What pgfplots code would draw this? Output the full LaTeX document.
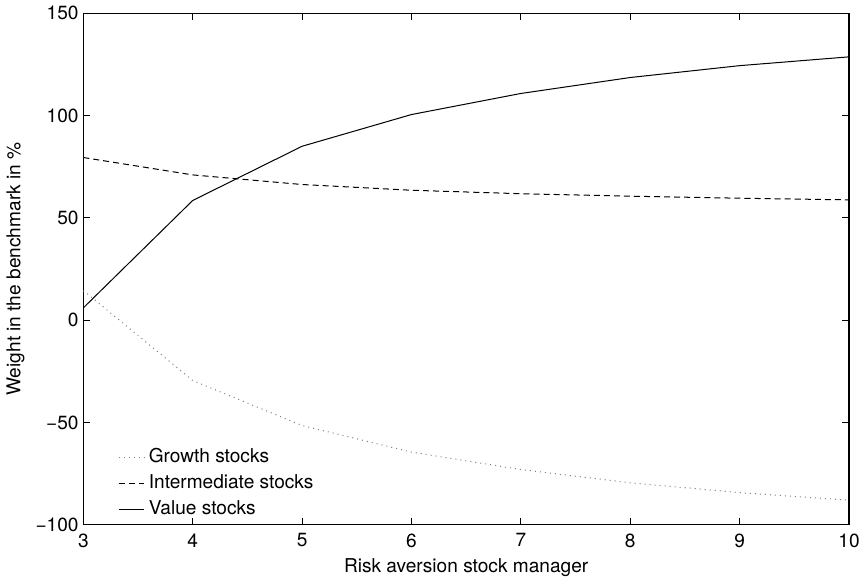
\documentclass[border=0pt]{standalone}
\usepackage{fontspec}
\setmainfont{TeX Gyre Heros}
\usepackage{pgfplots}
\pgfplotsset{compat=1.18}

\begin{document}
\fontsize{9.5}{11.5}\selectfont
\begin{tikzpicture}
\begin{axis}[
    scale only axis,
    width=381pt,
    height=254.5pt,
    xmin=3, xmax=10,
    ymin=-100, ymax=150,
    xtick={3,4,...,10},
    ytick={-100,-50,0,50,100,150},
    yticklabels={−100,−50,0,50,100,150},
    tick align=inside,
    major tick length=3.5pt,
    tick style={black, line width=0.5pt},
    axis line style={line width=0.6pt},
    every tick label/.append style={font=\fontsize{9.5}{11.5}\selectfont},
    /pgf/number format/assume math mode=true,
    xticklabel style={yshift=-1pt},
    yticklabel style={xshift=1pt},
    xlabel={Risk aversion stock manager},
    ylabel={Weight in the benchmark in \%},
    xlabel style={yshift=1pt, font=\fontsize{9.5}{11.5}\selectfont},
    ylabel style={yshift=-1pt, font=\fontsize{9.5}{11.5}\selectfont},
    legend style={draw=none, fill=none, at={(0.037,-0.003)}, anchor=south west,
        font=\fontsize{9.5}{11.5}\selectfont, row sep=0.6pt},
    legend cell align=left,
    legend image post style={xscale=0.75},
]
\addplot[gray, dotted, line width=0.5pt] coordinates {
    (3,14.5) (4,-29.5) (5,-51.5) (6,-64.5) (7,-73) (8,-79.5) (9,-84.3) (10,-88)};
\addplot[black, dash pattern=on 3pt off 2pt, line width=0.5pt] coordinates {
    (3,79.5) (4,71) (5,66.3) (6,63.5) (7,61.8) (8,60.6) (9,59.6) (10,58.8)};
\addplot[black, line width=0.5pt] coordinates {
    (3,6) (4,58.5) (5,85) (6,100.5) (7,110.8) (8,118.6) (9,124.4) (10,128.7)};
\legend{Growth stocks, Intermediate stocks, Value stocks}
\end{axis}
\end{tikzpicture}
\end{document}
